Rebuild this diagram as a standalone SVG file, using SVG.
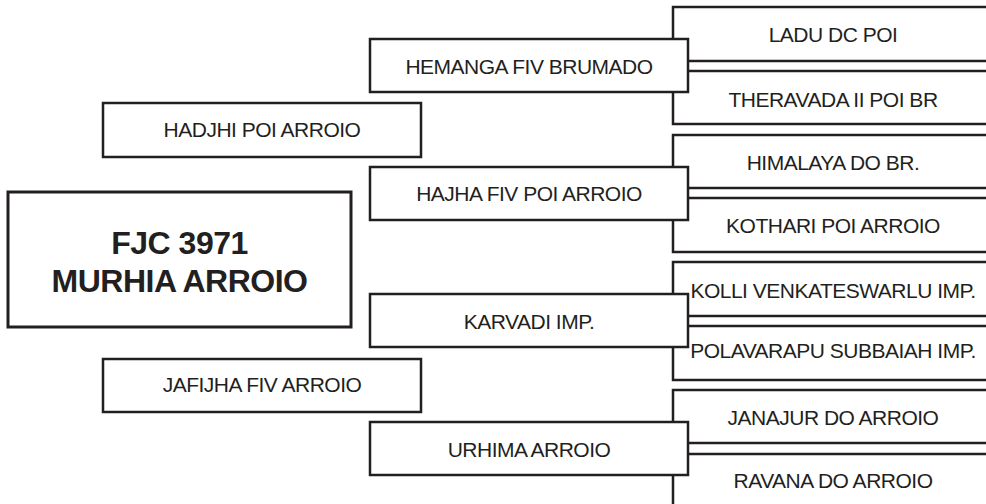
<svg xmlns="http://www.w3.org/2000/svg" width="986" height="504" viewBox="0 0 986 504">
<style>
.box{fill:#ffffff;stroke:#231f20;stroke-width:2.5}
.main{fill:#ffffff;stroke:#231f20;stroke-width:3}
.t{font-family:"Liberation Sans",Arial,sans-serif;font-size:21px;letter-spacing:-0.5px;fill:#231f20;text-anchor:middle}
.title{font-family:"Liberation Sans",Arial,sans-serif;font-size:32px;font-weight:bold;letter-spacing:-0.5px;fill:#231f20;text-anchor:middle}
</style>
<rect width="986" height="504" fill="#ffffff"/>
<g id="connectors"></g>
<g id="ladu"><rect class="box" x="673" y="7" width="320" height="54"/><text class="t" x="833" y="42">LADU DC POI</text></g>
<g id="theravada"><rect class="box" x="673" y="71" width="320" height="53"/><text class="t" x="833" y="107">THERAVADA II POI BR</text></g>
<g id="himalaya"><rect class="box" x="673" y="135" width="320" height="53"/><text class="t" x="833" y="170">HIMALAYA DO BR.</text></g>
<g id="kothari"><rect class="box" x="673" y="198" width="320" height="54"/><text class="t" x="833" y="233">KOTHARI POI ARROIO</text></g>
<g id="kolli"><rect class="box" x="673" y="262" width="320" height="54"/><text class="t" x="833" y="298">KOLLI VENKATESWARLU IMP.</text></g>
<g id="polavarapu"><rect class="box" x="673" y="326" width="320" height="54"/><text class="t" x="833" y="358">POLAVARAPU SUBBAIAH IMP.</text></g>
<g id="janajur"><rect class="box" x="673" y="390" width="320" height="53"/><text class="t" x="833" y="425">JANAJUR DO ARROIO</text></g>
<g id="ravana"><rect class="box" x="673" y="454" width="320" height="60"/><text class="t" x="833" y="488">RAVANA DO ARROIO</text></g>
<g id="hemanga"><rect class="box" x="370" y="39" width="318" height="53"/><text class="t" x="529" y="74">HEMANGA FIV BRUMADO</text></g>
<g id="hajha"><rect class="box" x="370" y="167" width="318" height="53"/><text class="t" x="529" y="201">HAJHA FIV POI ARROIO</text></g>
<g id="karvadi"><rect class="box" x="370" y="294" width="318" height="53"/><text class="t" x="529" y="329">KARVADI IMP.</text></g>
<g id="urhima"><rect class="box" x="370" y="422" width="318" height="53"/><text class="t" x="529" y="457">URHIMA ARROIO</text></g>
<g id="hadjhi"><rect class="box" x="103" y="103" width="318" height="54"/><text class="t" x="262" y="137">HADJHI POI ARROIO</text></g>
<g id="jafijha"><rect class="box" x="103" y="359" width="318" height="53"/><text class="t" x="262" y="392">JAFIJHA FIV ARROIO</text></g>
<g id="main"><rect class="main" x="8" y="192" width="343" height="135"/><text class="title" x="179.5" y="254">FJC 3971</text><text class="title" x="179.5" y="292">MURHIA ARROIO</text></g>
</svg>
